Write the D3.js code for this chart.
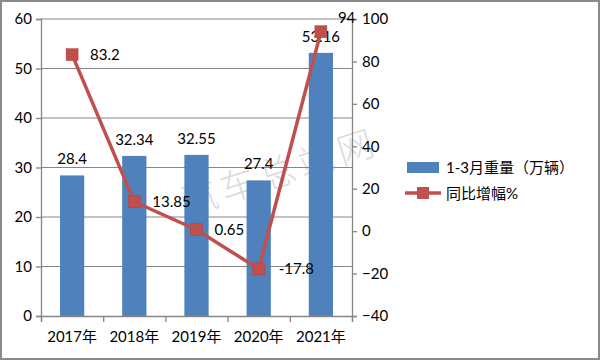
<!DOCTYPE html>
<html><head><meta charset="utf-8">
<script src="https://cdn.jsdelivr.net/npm/d3@7"></script>
<style>body{margin:0;background:#fff}svg{display:block}</style>
</head><body><svg id="c" width="600" height="360"></svg>
<script>
const categories = ["2017年","2018年","2019年","2020年","2021年"];
const volume = [28.4, 32.34, 32.55, 27.4, 53.16];
const growth = [83.2, 13.85, 0.65, -17.8, 94];
const leftTicks = [0,10,20,30,40,50,60];
const rightTicks = [-40,-20,0,20,40,60,80,100];
const seriesNames = ["1-3月重量（万辆）","同比增幅%"];

const svg = d3.select("#c");
const font = "Lato, 'Noto Sans CJK SC', sans-serif";
const axisColor = "#868686";
const barColor = "#4F81BD", lineColor = "#C0504D";
const L = 41, R = 352, T = 19, B = 316;

svg.append("rect").attr("x",1).attr("y",1).attr("width",598).attr("height",358)
  .attr("fill","#fff").attr("stroke","#8a8a8a").attr("stroke-width",2);

const x = d3.scaleBand().domain(categories).range([L,R]).paddingInner(0.61).paddingOuter(0.305);
const yL = d3.scaleLinear().domain([0,60]).range([B,T]);
const yR = d3.scaleLinear().domain([-40,100]).range([B,T]);
const cx = d => x(d) + x.bandwidth()/2;

// watermark
svg.append("text").attr("transform","translate(186,216) rotate(-18)")
  .attr("font-family","'Noto Sans CJK SC'").attr("font-size",36).attr("font-weight",300)
  .attr("fill","#c4c4c4").attr("fill-opacity",0.6)
  .attr("letter-spacing",5).text("汽车总站网");

// gridlines
svg.append("g").selectAll("line").data(leftTicks.filter(d=>d>0)).join("line")
  .attr("x1",L).attr("x2",R).attr("y1",d=>yL(d)).attr("y2",d=>yL(d))
  .attr("stroke",axisColor).attr("stroke-width",1);

// bars
svg.append("g").selectAll("rect").data(volume).join("rect")
  .attr("x",(d,i)=>x(categories[i])).attr("width",x.bandwidth())
  .attr("y",d=>yL(d)).attr("height",d=>B-yL(d)).attr("fill",barColor);

// axes
const gl = svg.append("g").attr("transform",`translate(${L},0)`)
  .call(d3.axisLeft(yL).tickValues(leftTicks).tickSize(5).tickPadding(4));
const gr = svg.append("g").attr("transform",`translate(${R},0)`)
  .call(d3.axisRight(yR).tickValues(rightTicks).tickSize(5).tickPadding(5));
const xb = d3.scaleLinear().domain([0,5]).range([L,R]);
const gb = svg.append("g").attr("transform",`translate(0,${B})`)
  .call(d3.axisBottom(xb).tickValues([0,1,2,3,4,5]).tickSize(6).tickFormat(""));
[gl,gr,gb].forEach(g=>{
  g.select(".domain").attr("stroke",axisColor).attr("stroke-width",1.3);
  g.selectAll(".tick line").attr("stroke",axisColor).attr("stroke-width",1.3);
  g.selectAll("text").attr("font-family",font).attr("font-size",15).attr("fill","#000");
});
svg.append("g").selectAll("text").data(categories).join("text")
  .attr("x",d=>cx(d)).attr("y",342).attr("text-anchor","middle")
  .attr("font-family",font).attr("font-size",15).text(d=>d);

// bar labels
svg.append("g").selectAll("text").data(volume).join("text")
  .attr("x",(d,i)=>cx(categories[i])).attr("y",d=>yL(d)-11)
  .attr("text-anchor","middle").attr("font-family",font).attr("font-size",15)
  .text(d=>d);

// line
const line = d3.line().x((d,i)=>cx(categories[i])).y(d=>yR(d));
svg.append("path").datum(growth).attr("d",line).attr("fill","none")
  .attr("stroke",lineColor).attr("stroke-width",3.5);
svg.append("g").selectAll("rect").data(growth).join("rect")
  .attr("x",(d,i)=>cx(categories[i])-6).attr("y",d=>yR(d)-6)
  .attr("width",12).attr("height",12).attr("fill",lineColor)
  .attr("stroke","#b8403d").attr("stroke-width",0.5);
const off = [[18,5],[18,5],[18,5],[20,5],[17,-9]];
svg.append("g").selectAll("text").data(growth).join("text")
  .attr("x",(d,i)=>cx(categories[i])+off[i][0]).attr("y",(d,i)=>yR(d)+off[i][1])
  .attr("font-family",font).attr("font-size",15).text(d=>d);

// legend
svg.append("rect").attr("x",407).attr("y",162).attr("width",32).attr("height",11).attr("fill",barColor);
svg.append("text").attr("x",446).attr("y",173).attr("font-family",font).attr("font-size",15).text(seriesNames[0]);
svg.append("line").attr("x1",405).attr("x2",441).attr("y1",193).attr("y2",193)
  .attr("stroke",lineColor).attr("stroke-width",3.5);
svg.append("rect").attr("x",417).attr("y",187).attr("width",12).attr("height",12).attr("fill",lineColor);
svg.append("text").attr("x",446).attr("y",199).attr("font-family",font).attr("font-size",15).text(seriesNames[1]);
</script></body></html>
